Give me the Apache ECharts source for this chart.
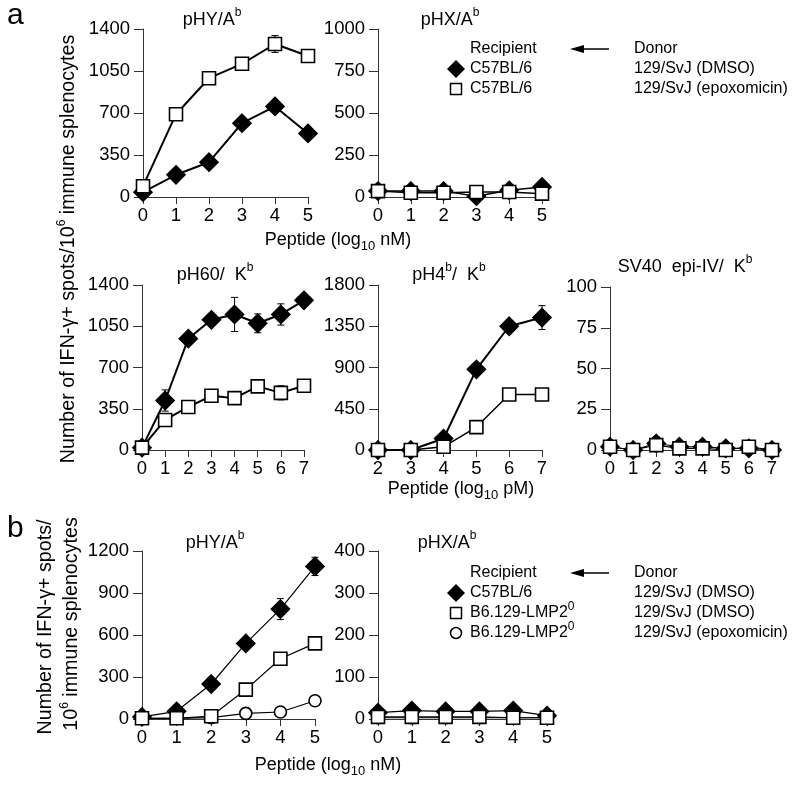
<!DOCTYPE html>
<html>
<head>
<meta charset="utf-8">
<script src="https://cdn.jsdelivr.net/npm/echarts@6/dist/echarts.min.js"></script>
<style>
  html, body { margin: 0; background: #fff; }
  #chart { width: 800px; height: 786px; }
</style>
</head>
<body>
<div id="chart"></div>
<script>
// ---- data ----
// a, top row: pHY/Ab and pHX/Ab (log10 nM)
var nM6 = [0, 1, 2, 3, 4, 5];
var pHYa_dmso = [40, 185, 290, 615, 755, 530];
var pHYa_dmsoErr = [0, 0, 0, 0, 0, 0];
var pHYa_epox = [90, 690, 990, 1110, 1275, 1175];
var pHYa_epoxErr = [0, 0, 40, 0, 70, 0];
var pHXa_dmso = [35, 35, 35, 5, 40, 60];
var pHXa_epox = [35, 25, 25, 30, 30, 20];

// a, middle row: pH60/Kb, pH4b/Kb, SV40 epi-IV/Kb (log10 pM)
var pM8 = [0, 1, 2, 3, 4, 5, 6, 7];
var pM6 = [2, 3, 4, 5, 6, 7];
var pH60_dmso = [20, 420, 945, 1105, 1150, 1075, 1150, 1270];
var pH60_dmsoErr = [0, 90, 0, 0, 145, 80, 90, 0];
var pH60_epox = [20, 255, 365, 460, 440, 540, 485, 545];
var pH60_epoxErr = [0, 0, 0, 0, 0, 0, 60, 0];
var pH4_dmso = [0, 0, 125, 880, 1350, 1445];
var pH4_dmsoErr = [0, 0, 0, 0, 0, 130];
var pH4_epox = [0, 0, 35, 250, 605, 605];
var sv40_dmso = [2, 0, 4, 2, 2, 1, 1, 0];
var sv40_dmsoErr = [2, 3, 4, 3, 3, 3, 3, 3];
var sv40_epox = [2, 0, 3, 1, 1, 0, 2, 0];
var sv40_epoxErr = [1, 1, 2, 1, 1, 1, 3, 1];

// b: pHY/Ab and pHX/Ab (log10 nM)
var pHYb_b6 = [15, 55, 250, 540, 785, 1090];
var pHYb_b6Err = [0, 0, 0, 0, 75, 65];
var pHYb_lmp = [5, 5, 20, 210, 430, 540];
var pHYb_lmpEpox = [5, 5, 10, 40, 50, 130];
var pHXb_b6 = [15, 20, 18, 18, 20, 8];
var pHXb_lmp = [5, 5, 5, 5, 3, 3];
var pHXb_lmpEpox = [3, 3, 3, 3, 3, 3];

var FONT = 'Liberation Sans, Arial, sans-serif';

var chart = echarts.init(document.getElementById('chart'));

// grid boxes for the seven plots
var grids = [
  { left: 143, top: 29, width: 165, height: 168 },
  { left: 378, top: 29, width: 164, height: 168 },
  { left: 142, top: 285, width: 162, height: 165 },
  { left: 378, top: 285, width: 164, height: 165 },
  { left: 610, top: 287, width: 162, height: 163 },
  { left: 142, top: 551, width: 173, height: 168 },
  { left: 378, top: 551, width: 169, height: 168 }
];
var xRange = [[0, 5], [0, 5], [0, 7], [2, 7], [0, 7], [0, 5], [0, 5]];
var yMax = [1400, 1000, 1400, 1800, 100, 1200, 400];

var axisLine = { show: true, lineStyle: { color: '#333', width: 1 } };
var plain = function (v) { return String(v); };
var xAxes = grids.map(function (g, i) {
  return {
    gridIndex: i, type: 'value', min: xRange[i][0], max: xRange[i][1], interval: 1,
    axisLine: axisLine,
    axisTick: { show: true, length: 7, lineStyle: { color: '#333' } },
    axisLabel: { color: '#000', fontSize: 18.5, fontFamily: FONT, margin: 9, formatter: plain },
    splitLine: { show: false }
  };
});
var yAxes = grids.map(function (g, i) {
  return {
    gridIndex: i, type: 'value', min: 0, max: yMax[i], interval: yMax[i] / 4,
    axisLine: axisLine,
    axisTick: { show: true, length: 9, lineStyle: { color: '#333' } },
    axisLabel: { color: '#000', fontSize: 18.5, fontFamily: FONT, margin: 13, formatter: plain },
    splitLine: { show: false }
  };
});

function lineSeries(gi, xs, ys, symbol, fill, size, lw, z) {
  return {
    type: 'line', xAxisIndex: gi, yAxisIndex: gi, z: z, clip: false,
    data: xs.map(function (x, i) { return [x, ys[i]]; }),
    symbol: symbol, symbolSize: size, showAllSymbol: true,
    lineStyle: { color: '#000', width: lw },
    itemStyle: { color: fill, borderColor: '#000', borderWidth: 1.6 },
    emphasis: { disabled: true }
  };
}

function errSeries(gi, xs, ys, es, z) {
  return {
    type: 'custom', xAxisIndex: gi, yAxisIndex: gi, z: z, clip: false,
    data: xs.map(function (x, i) { return [x, ys[i], es[i]]; }),
    renderItem: function (params, api) {
      var x = api.value(0), y = api.value(1), e = api.value(2);
      if (!e) return null;
      var t = api.coord([x, y + e]), b = api.coord([x, y - e]);
      var w = 3.5, st = { stroke: '#000', lineWidth: 1 };
      return {
        type: 'group', children: [
          { type: 'line', shape: { x1: t[0], y1: t[1], x2: b[0], y2: b[1] }, style: st },
          { type: 'line', shape: { x1: t[0] - w, y1: t[1], x2: t[0] + w, y2: t[1] }, style: st },
          { type: 'line', shape: { x1: b[0] - w, y1: b[1], x2: b[0] + w, y2: b[1] }, style: st }
        ]
      };
    }
  };
}

var DIA = 18, SQ = 13, CIR = 12;
var series = [
  errSeries(0, nM6, pHYa_dmso, pHYa_dmsoErr, 1),
  errSeries(0, nM6, pHYa_epox, pHYa_epoxErr, 1),
  lineSeries(0, nM6, pHYa_dmso, 'diamond', '#000', DIA, 2, 2),
  lineSeries(0, nM6, pHYa_epox, 'rect', '#fff', SQ, 2, 3),

  lineSeries(1, nM6, pHXa_dmso, 'diamond', '#000', DIA, 1.5, 2),
  lineSeries(1, nM6, pHXa_epox, 'rect', '#fff', SQ, 1.5, 3),

  errSeries(2, pM8, pH60_dmso, pH60_dmsoErr, 1),
  errSeries(2, pM8, pH60_epox, pH60_epoxErr, 1),
  lineSeries(2, pM8, pH60_dmso, 'diamond', '#000', DIA, 2, 2),
  lineSeries(2, pM8, pH60_epox, 'rect', '#fff', SQ, 2, 3),

  errSeries(3, pM6, pH4_dmso, pH4_dmsoErr, 1),
  lineSeries(3, pM6, pH4_dmso, 'diamond', '#000', DIA, 2, 2),
  lineSeries(3, pM6, pH4_epox, 'rect', '#fff', SQ, 1.5, 3),

  errSeries(4, pM8, sv40_dmso, sv40_dmsoErr, 1),
  errSeries(4, pM8, sv40_epox, sv40_epoxErr, 1),
  lineSeries(4, pM8, sv40_dmso, 'diamond', '#000', DIA, 1.2, 2),
  lineSeries(4, pM8, sv40_epox, 'rect', '#fff', SQ, 1.2, 3),

  errSeries(5, nM6, pHYb_b6, pHYb_b6Err, 1),
  lineSeries(5, nM6, pHYb_b6, 'diamond', '#000', DIA, 1.2, 2),
  lineSeries(5, nM6, pHYb_lmpEpox, 'circle', '#fff', CIR, 1.2, 3),
  lineSeries(5, nM6, pHYb_lmp, 'rect', '#fff', SQ, 1.2, 4),

  lineSeries(6, nM6, pHXb_b6, 'diamond', '#000', DIA, 1.2, 2),
  lineSeries(6, nM6, pHXb_lmpEpox, 'circle', '#fff', CIR, 1.2, 3),
  lineSeries(6, nM6, pHXb_lmp, 'rect', '#fff', SQ, 1.2, 4)
];

// rich text styles
var rich = {
  n: { fontSize: 18, fontFamily: FONT, fill: '#000', lineHeight: 26 },
  y: { fontSize: 19.7, fontFamily: FONT, fill: '#000', lineHeight: 26 },
  s: { fontSize: 16, fontFamily: FONT, fill: '#000', lineHeight: 24 },
  sup: { fontSize: 12, fontFamily: FONT, fill: '#000', verticalAlign: 'top', lineHeight: 12 },
  sub: { fontSize: 13, fontFamily: FONT, fill: '#000', verticalAlign: 'bottom', lineHeight: 13 }
};

function txt(x, y, text, opt) {
  opt = opt || {};
  return {
    type: 'text', x: x, y: y, silent: true, rotation: opt.rot || 0,
    style: {
      text: text, rich: rich, fontFamily: FONT, fontSize: opt.size || 18, fill: '#000',
      align: opt.align || 'center', verticalAlign: 'middle'
    }
  };
}

var graphics = [
  txt(7, 16, 'a', { size: 30, align: 'left' }),
  txt(7, 529, 'b', { size: 30, align: 'left' }),

  txt(212, 20, '{n|pHY/A}{sup|b}'),
  txt(450, 20, '{n|pHX/A}{sup|b}'),
  txt(215, 275, '{n|pH60/  K}{sup|b}'),
  txt(449, 275, '{n|pH4}{sup|b}{n|/  K}{sup|b}'),
  txt(685, 267, '{n|SV40  epi-IV/  K}{sup|b}'),
  txt(215, 543, '{n|pHY/A}{sup|b}'),
  txt(447, 543, '{n|pHX/A}{sup|b}'),

  txt(338, 240, '{n|Peptide (log}{sub|10}{n| nM)}'),
  txt(461, 489, '{n|Peptide (log}{sub|10}{n| pM)}'),
  txt(328, 765, '{n|Peptide (log}{sub|10}{n| nM)}'),

  txt(69, 249, '{y|Number of IFN-γ+ spots/10}{sup|6}{y| immune splenocytes}', { rot: Math.PI / 2 }),
  txt(46, 627, '{y|Number of IFN-γ+ spots/}', { rot: Math.PI / 2 }),
  txt(72, 624, '{y|10}{sup|6}{y| immune splenocytes}', { rot: Math.PI / 2 })
];

// legends (panel a and panel b)
function legendBlock(y0, rows) {
  var out = [];
  out.push(txt(470, y0, '{s|Recipient}', { align: 'left' }));
  out.push(txt(634, y0, '{s|Donor}', { align: 'left' }));
  out.push({ type: 'line', silent: true, shape: { x1: 578, y1: y0, x2: 609, y2: y0 }, style: { stroke: '#000', lineWidth: 1.5 } });
  out.push({ type: 'polygon', silent: true, shape: { points: [[570, y0], [584, y0 - 4], [584, y0 + 4]] }, style: { fill: '#000' } });
  rows.forEach(function (r, i) {
    var y = y0 + 20 * (i + 1);
    if (r.sym === 'diamond') {
      out.push({ type: 'polygon', silent: true, shape: { points: [[456, y - 9], [465, y], [456, y + 9], [447, y]] }, style: { fill: '#000' } });
    } else if (r.sym === 'rect') {
      out.push({ type: 'rect', silent: true, shape: { x: 450.5, y: y - 5.5, width: 11, height: 11 }, style: { fill: '#fff', stroke: '#000', lineWidth: 1.5 } });
    } else {
      out.push({ type: 'circle', silent: true, shape: { cx: 456, cy: y, r: 5.5 }, style: { fill: '#fff', stroke: '#000', lineWidth: 1.5 } });
    }
    out.push(txt(470, y, r.rec, { align: 'left' }));
    out.push(txt(634, y, '{s|' + r.don + '}', { align: 'left' }));
  });
  return out;
}

var legA = legendBlock(49, [
  { sym: 'diamond', rec: '{s|C57BL/6}', don: '129/SvJ (DMSO)' },
  { sym: 'rect', rec: '{s|C57BL/6}', don: '129/SvJ (epoxomicin)' }
]);
var legB = legendBlock(573, [
  { sym: 'diamond', rec: '{s|C57BL/6}', don: '129/SvJ (DMSO)' },
  { sym: 'rect', rec: '{s|B6.129-LMP2}{sup|0}', don: '129/SvJ (DMSO)' },
  { sym: 'circle', rec: '{s|B6.129-LMP2}{sup|0}', don: '129/SvJ (epoxomicin)' }
]);

chart.setOption({
  animation: false,
  backgroundColor: '#fff',
  grid: grids,
  xAxis: xAxes,
  yAxis: yAxes,
  series: series,
  graphic: graphics.concat(legA, legB)
});
</script>
</body>
</html>
